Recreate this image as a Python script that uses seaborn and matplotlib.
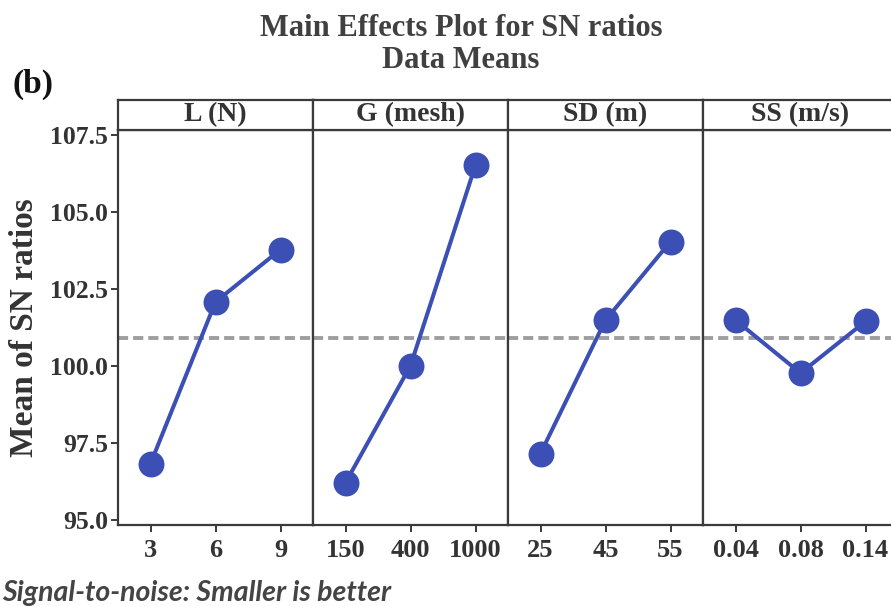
import matplotlib
matplotlib.use("Agg")
import matplotlib.pyplot as plt
import seaborn as sns
import pandas as pd

# Factor levels and mean S/N ratios (smaller-is-better)
factors = ["L (N)", "G (mesh)", "SD (m)", "SS (m/s)"]
levels_L = ["3", "6", "9"]
levels_G = ["150", "400", "1000"]
levels_SD = ["25", "45", "55"]
levels_SS = ["0.04", "0.08", "0.14"]
sn_L = [96.83, 102.08, 103.78]
sn_G = [96.21, 100.01, 106.52]
sn_SD = [97.16, 101.49, 104.04]
sn_SS = [101.49, 99.77, 101.45]
yticks = [95.0, 97.5, 100.0, 102.5, 105.0, 107.5]

levels = [levels_L, levels_G, levels_SD, levels_SS]
values = [sn_L, sn_G, sn_SD, sn_SS]
grand_mean = sum(sn_L + sn_G + sn_SD + sn_SS) / 12.0

sns.set_theme(style="white")
plt.rcParams["font.family"] = ["Liberation Serif", "DejaVu Serif"]

W, H = 891, 606
fig = plt.figure(figsize=(W / 100, H / 100), dpi=100)

line_col = "#3B4FB5"
axis_col = "#3a3a3a"
text_col = "#333333"


def fx(px):
    return px / W


def fy(px):
    return 1 - px / H


left0, pw = 118, 195
top, bottom = 130, 525
strip_top = 100

for i, (name, lv, vals) in enumerate(zip(factors, levels, values)):
    x0 = left0 + i * pw
    ax = fig.add_axes([fx(x0), fy(bottom), pw / W, (bottom - top) / H])
    df = pd.DataFrame({"level": lv, "sn": vals})
    ax.axhline(grand_mean, color="#9e9e9e", lw=2.8, dashes=(2.6, 1.3), zorder=1)
    sns.pointplot(data=df, x="level", y="sn", order=lv, errorbar=None,
                  color=line_col, markers="o", markersize=16.5, linewidth=2.9,
                  ax=ax, zorder=3)
    ax.set_xlim(-0.5, 2.5)
    ax.set_ylim(94.84, 107.66)
    ax.set_xlabel("")
    ax.set_ylabel("")
    for s in ax.spines.values():
        s.set_visible(True)
        s.set_color(axis_col)
        s.set_linewidth(1.6)
    ax.tick_params(axis="x", bottom=True, length=5, width=1.4, color=axis_col,
                   labelsize=19, labelcolor=text_col, pad=5)
    for t in ax.get_xticklabels():
        t.set_fontweight("bold")
    if i == 0:
        ax.set_yticks(yticks)
        ax.set_yticklabels([f"{v:.1f}" for v in yticks], fontweight="bold")
        ax.tick_params(axis="y", left=True, length=5, width=1.4, color=axis_col,
                       labelsize=18.5, labelcolor=text_col, pad=2)
        ax.set_ylabel("Mean of SN ratios", fontsize=24, fontweight="bold",
                      color=text_col)
        ax.yaxis.set_label_coords(-0.40, 0.5)
    else:
        ax.set_yticks(yticks)
        ax.tick_params(axis="y", left=False, labelleft=False)

    # header strip with the factor name
    hx = fig.add_axes([fx(x0), fy(top), pw / W, (top - strip_top) / H])
    hx.set_xticks([])
    hx.set_yticks([])
    for s in hx.spines.values():
        s.set_color(axis_col)
        s.set_linewidth(1.6)
    hx.text(0.5, 0.5, name, ha="center", va="center", fontsize=20,
            fontweight="bold", color=text_col, transform=hx.transAxes)

fig.text(fx(461), fy(28), "Main Effects Plot for SN ratios", ha="center",
         va="center", fontsize=22, fontweight="bold", color="#404040")
fig.text(fx(461), fy(60), "Data Means", ha="center", va="center",
         fontsize=22, fontweight="bold", color="#404040")
fig.text(fx(12), fy(84), "(b)", ha="left", va="center", fontsize=24,
         fontweight="bold", color="#111111")
fig.text(fx(2), fy(593), "Signal-to-noise: Smaller is better", ha="left",
         va="center", fontsize=20.5, fontweight="bold", style="italic",
         family=["Lato", "DejaVu Sans"], color="#444444")

fig.savefig("out.png", dpi=100)
